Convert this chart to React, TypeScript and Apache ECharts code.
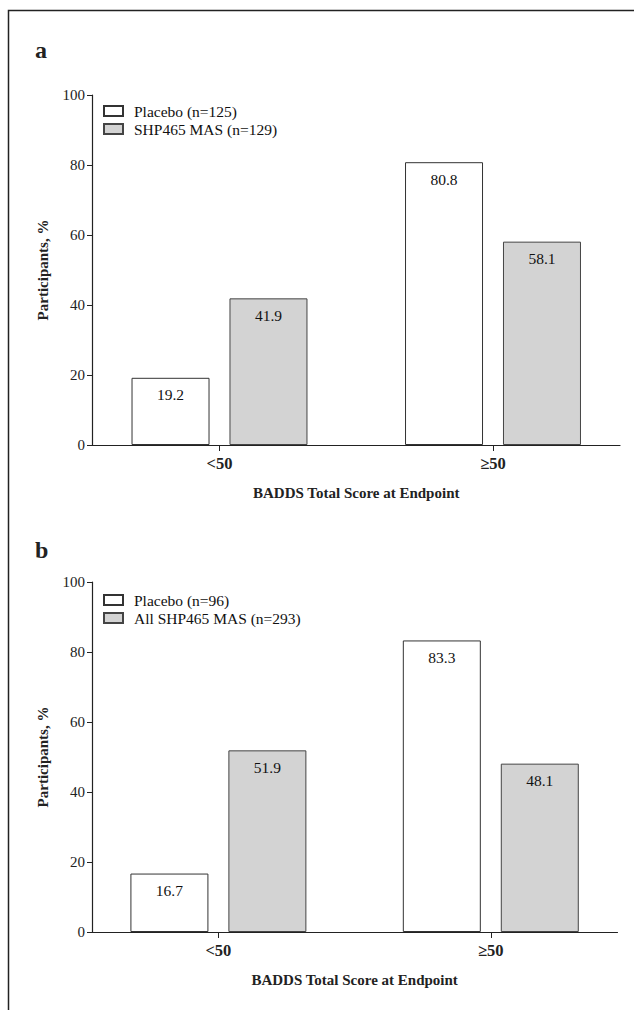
import React, { useEffect, useRef } from "react";
import * as echarts from "echarts";

// ---- data ----
const categories = ["<50", "\u226550"];
const legendA = ["Placebo (n=125)", "SHP465 MAS (n=129)"];
const legendB = ["Placebo (n=96)", "All SHP465 MAS (n=293)"];
const placeboA = [19.2, 80.8];
const masA = [41.9, 58.1];
const placeboB = [16.7, 83.3];
const masB = [51.9, 48.1];
const panelLabels = ["a", "b"];
const xTitle = "BADDS Total Score at Endpoint";
const yTitle = "Participants, %";

const FONT = "'Liberation Serif', 'Times New Roman', serif";
const INK = "#222";

export default function App() {
  const ref = useRef<HTMLDivElement>(null);

  useEffect(() => {
    if (!ref.current) return;
    const chart = echarts.init(ref.current, null, { renderer: "svg" });

    const barGrid = (left: number, width: number, top: number) => ({
      left, width, top, height: 350, outerBoundsMode: "none", containLabel: false,
    });

    const catAxis = (gridIndex: number) => ({
      type: "category",
      gridIndex,
      data: categories,
      axisLine: { show: false },
      axisTick: { show: true, alignWithLabel: true, length: 6, lineStyle: { color: INK, width: 1 } },
      axisLabel: { fontFamily: FONT, fontSize: 16.5, fontWeight: "bold", color: INK, margin: 10 },
      splitLine: { show: false },
      name: xTitle,
      nameLocation: "middle",
      nameGap: 40,
      nameTextStyle: { fontFamily: FONT, fontSize: 15, fontWeight: "bold", color: INK },
    });
    const lineAxis = (gridIndex: number) => ({
      type: "value",
      gridIndex,
      min: 0,
      max: 1,
      axisLine: { show: true, lineStyle: { color: INK, width: 1.2 } },
      axisTick: { show: false },
      axisLabel: { show: false },
      splitLine: { show: false },
    });
    const hiddenY = (gridIndex: number) => ({
      type: "value", gridIndex, min: 0, max: 100, show: false, splitLine: { show: false },
    });
    const valueY = (gridIndex: number) => ({
      type: "value",
      gridIndex,
      min: 0,
      max: 100,
      interval: 20,
      axisLine: { show: true, lineStyle: { color: INK, width: 1.2 } },
      axisTick: { show: true, length: 5, lineStyle: { color: INK } },
      axisLabel: { fontFamily: FONT, fontSize: 15, color: INK, margin: 7 },
      splitLine: { show: false },
      name: yTitle,
      nameLocation: "middle",
      nameGap: 42,
      nameTextStyle: { fontFamily: FONT, fontSize: 15, fontWeight: "bold", color: INK },
    });

    const label = {
      show: true,
      position: "insideTop",
      distance: 9,
      fontFamily: FONT,
      fontSize: 15.5,
      color: "#111",
      formatter: (p: any) => Number(p.value).toFixed(1),
    };
    const whiteStyle = { color: "#ffffff", borderColor: "#333", borderWidth: 1 };
    const greyStyle = { color: "#d3d3d3", borderColor: "#444", borderWidth: 1 };
    const bar = (name: string, data: number[], gi: number, style: any) => ({
      type: "bar",
      name,
      xAxisIndex: gi,
      yAxisIndex: gi,
      data,
      barWidth: 78,
      barGap: "25.6%",
      itemStyle: style,
      label,
    });

    const legend = (names: string[], top: number) => ({
      data: names,
      left: 103,
      top,
      padding: 0,
      orient: "vertical",
      icon: "rect",
      itemWidth: 19,
      itemHeight: 10,
      itemGap: 2,
      selectedMode: false,
      textStyle: { fontFamily: FONT, fontSize: 15.5, color: "#111", padding: [0, 0, 0, 6] },
    });

    chart.setOption({
      animation: false,
      backgroundColor: "#ffffff",
      grid: [
        barGrid(82.75, 547, 95),
        barGrid(92, 528, 95),
        barGrid(82.2, 544.8, 582),
        barGrid(92, 525.5, 582),
      ],
      xAxis: [catAxis(0), lineAxis(1), catAxis(2), lineAxis(3)],
      yAxis: [hiddenY(0), valueY(1), hiddenY(2), valueY(3)],
      legend: [legend(legendA, 103), legend(legendB, 592)],
      series: [
        bar(legendA[0], placeboA, 0, whiteStyle),
        bar(legendA[1], masA, 0, greyStyle),
        bar(legendB[0], placeboB, 2, whiteStyle),
        bar(legendB[1], masB, 2, greyStyle),
      ],
      graphic: [
        {
          type: "rect",
          shape: { x: 8.5, y: 10.5, width: 700, height: 1100 },
          style: { fill: "none", stroke: INK, lineWidth: 1.5 },
          silent: true,
        },
        {
          type: "text",
          x: 35,
          y: 50,
          style: { text: panelLabels[0], font: `bold 24px ${FONT}`, fill: INK, verticalAlign: "middle" },
        },
        {
          type: "text",
          x: 35,
          y: 550,
          style: { text: panelLabels[1], font: `bold 24px ${FONT}`, fill: INK, verticalAlign: "middle" },
        },
      ],
    });

    return () => chart.dispose();
  }, []);

  return (
    <div
      ref={ref}
      style={{ position: "fixed", left: 0, top: 0, width: 634, height: 1010 }}
    />
  );
}
